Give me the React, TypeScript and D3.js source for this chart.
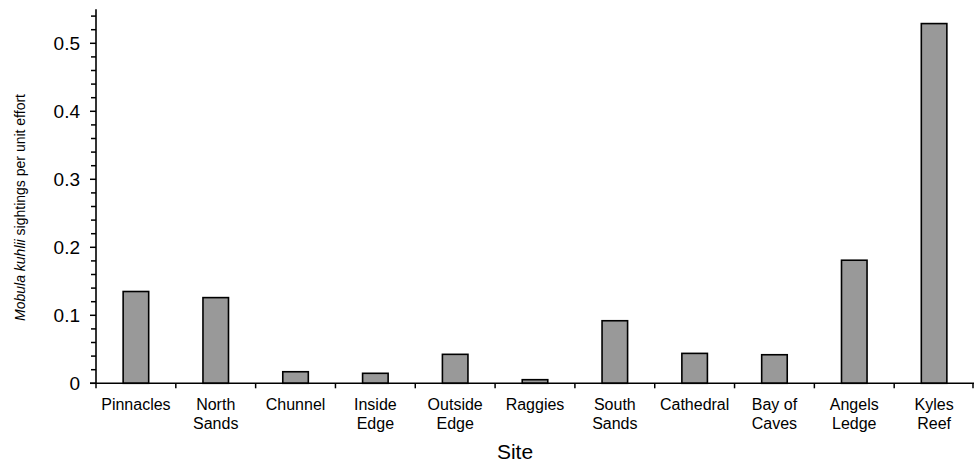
import React from "react";
import * as d3 from "d3";

const sites = [
  ["Pinnacles"], ["North", "Sands"], ["Chunnel"], ["Inside", "Edge"], ["Outside", "Edge"],
  ["Raggies"], ["South", "Sands"], ["Cathedral"], ["Bay of", "Caves"], ["Angels", "Ledge"], ["Kyles", "Reef"],
];
const values = [0.135, 0.126, 0.017, 0.0147, 0.0426, 0.0053, 0.092, 0.044, 0.042, 0.181, 0.529];
const majorTicks = [0, 0.1, 0.2, 0.3, 0.4, 0.5];
const tickLabels = ["0", "0.1", "0.2", "0.3", "0.4", "0.5"];

export default function App() {
  const W = 974, H = 463;
  const left = 96, right = 974, top = 9.3, bottom = 383.3;
  const y = d3.scaleLinear().domain([0, 0.55]).range([bottom, top]);
  const keys = sites.map((s) => s.join(" "));
  const x = d3.scaleBand().domain(keys).range([left, right]).paddingInner(0).paddingOuter(0);
  const bw = x.bandwidth();
  const barW = bw * 0.32;
  const minor = d3.range(0, 0.551, 0.02).filter((v) => !majorTicks.some((m) => Math.abs(m - v) < 1e-6));
  const font = "'Liberation Sans', Arial, sans-serif";
  return (
    <svg width={W} height={H} style={{ position: "absolute", left: 0, top: 0 }} fontFamily={font}>
      <rect width={W} height={H} fill="#fff" />
      {values.map((v, i) => {
        const cx = (x(keys[i]) as number) + bw / 2;
        return (
          <rect key={i} x={cx - barW / 2} y={y(v)} width={barW} height={bottom - y(v)}
            fill="#999999" stroke="#000" strokeWidth={1.6} />
        );
      })}
      {/* y axis */}
      <line x1={left} x2={left} y1={top} y2={bottom} stroke="#000" strokeWidth={1.6} />
      {majorTicks.map((t, i) => (
        <g key={"m" + i}>
          <line x1={left - 6} x2={left} y1={y(t)} y2={y(t)} stroke="#000" strokeWidth={1.5} />
          <text x={left - 16} y={y(t)} dy="0.36em" textAnchor="end" fontSize={19}>{tickLabels[i]}</text>
        </g>
      ))}
      {minor.map((t, i) => (
        <line key={"n" + i} x1={left - 5} x2={left} y1={y(t)} y2={y(t)} stroke="#000" strokeWidth={1.5} />
      ))}
      {/* x axis */}
      <line x1={left - 6} x2={right} y1={bottom} y2={bottom} stroke="#000" strokeWidth={1.6} />
      {keys.concat(["__end"]).map((k, i) => {
        const xx = i < keys.length ? (x(k) as number) : right - 1;
        return <line key={"xt" + i} x1={xx} x2={xx} y1={bottom} y2={bottom + 5} stroke="#000" strokeWidth={1.5} />;
      })}
      {sites.map((s, i) => {
        const cx = (x(keys[i]) as number) + bw / 2;
        return (
          <text key={"xl" + i} x={cx} y={409.5} textAnchor="middle" fontSize={16}>
            {s.map((line, j) => (
              <tspan key={j} x={cx} dy={j === 0 ? 0 : 19}>{line}</tspan>
            ))}
          </text>
        );
      })}
      <text x={515} y={458.5} textAnchor="middle" fontSize={21}>Site</text>
      <text transform={`translate(25,207.5) rotate(-90)`} textAnchor="middle" fontSize={14}>
        <tspan fontStyle="italic">Mobula kuhlii</tspan> sightings per unit effort
      </text>
    </svg>
  );
}
